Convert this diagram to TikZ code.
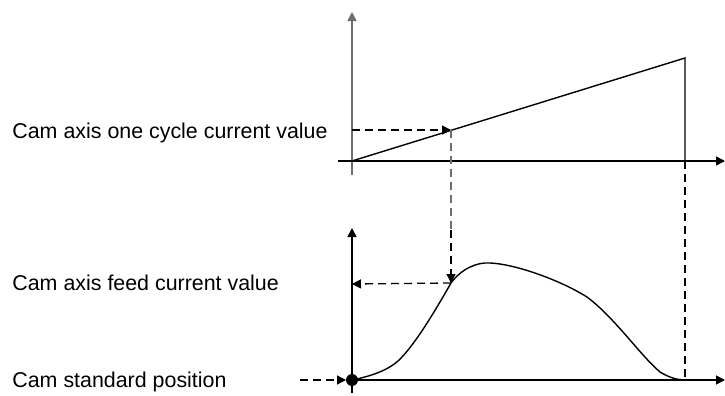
\documentclass[tikz,border=0pt]{standalone}
\usepackage{fontspec}
\setmainfont{Liberation Sans}
\usetikzlibrary{arrows.meta}
\definecolor{axisgray}{HTML}{6E6E6E}

\begin{document}
\begin{tikzpicture}[
  x=0.5pt,y=-0.5pt,
  lbl/.style={anchor=base west,inner sep=0pt,font=\fontsize{10.7}{12}\selectfont},
  axis/.style={line width=0.75pt,-{Triangle[length=4.5pt,width=4.5pt]}},
  curve/.style={line width=0.7pt},
  guide/.style={line width=0.65pt,dash pattern=on 4pt off 2.5pt},
  garr/.style={guide,-{Triangle[length=4.5pt,width=4.5pt]}}
]
\useasboundingbox (0,0) rectangle (725,396);
% labels
\node[lbl] (cyc) at (12,139) {Cam axis one cycle current value};
\node[lbl] (feed) at (12,291) {Cam axis feed current value};
\node[lbl] (std) at (12,387) {Cam standard position};
% points
\coordinate (o1) at (352,161);
\coordinate (o2) at (352,380);
\coordinate (top) at (685,58);
\coordinate (end1) at (685,161);
\coordinate (end2) at (685,380);
\coordinate (p1) at (451,130);
\coordinate (q1) at (352,130);
\coordinate (p2) at (451,283);
\coordinate (q2) at (352,284);
\coordinate (s0) at (300,380);
% upper graph
\draw[axis,draw=axisgray] (352,175) -- (352,12);
\draw[axis] (338,161) -- (725,161);
\draw[curve] (o1) -- (top) -- (end1);
% lower graph
\draw[axis] (352,393) -- (352,228);
\draw[axis] (352,380) -- (725,380);
\draw[curve] (o2) .. controls (372,376) and (388,370) .. (398,361)
  .. controls (412,348) and (430,320) .. (p2)
  .. controls (462,268) and (478,262) .. (490,263)
  .. controls (515,264) and (560,280) .. (587,297)
  .. controls (615,318) and (640,355) .. (660,372)
  .. controls (670,378) and (678,380) .. (end2);
\fill (o2) circle (6);
% guides
\draw[garr] (q1) -- (p1);
\draw[guide,draw=axisgray] (p1) -- (451,230);
\draw[garr] (451,230) -- (p2);
\draw[garr] (p2) -- (q2);
\draw[guide] (end1) -- (end2);
\draw[garr] (s0) -- (346,380);
\end{tikzpicture}
\end{document}
